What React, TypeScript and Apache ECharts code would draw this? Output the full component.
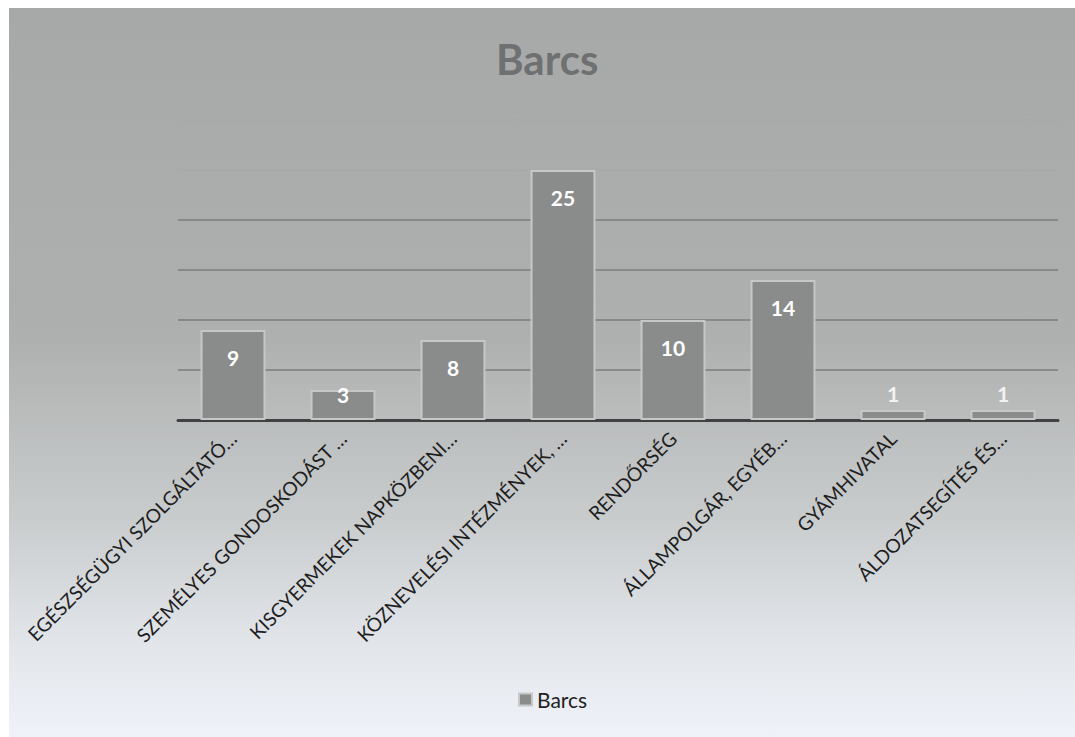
import React, { useEffect, useRef } from "react";
import * as echarts from "echarts";

const titleText = "Barcs";
const seriesName = "Barcs";
const categories = [
  "EGÉSZSÉGÜGYI SZOLGÁLTATÓ…",
  "SZEMÉLYES GONDOSKODÁST …",
  "KISGYERMEKEK NAPKÖZBENI…",
  "KÖZNEVELÉSI INTÉZMÉNYEK, …",
  "RENDŐRSÉG",
  "ÁLLAMPOLGÁR, EGYÉB…",
  "GYÁMHIVATAL",
  "ÁLDOZATSEGÍTÉS ÉS…",
];
const values = [9, 3, 8, 25, 10, 14, 1, 1];
const yMin = 0;
const yMax = 30;
const yInterval = 5;

export default function App() {
  const ref = useRef<HTMLDivElement>(null);
  useEffect(() => {
    if (!ref.current) return;
    const chart = echarts.init(ref.current, undefined, { renderer: "svg" });
    const grid = "#7b7d7c";
    const faint = "rgba(123,125,124,0.04)";
    chart.setOption({
      animation: false,
      backgroundColor: new echarts.graphic.LinearGradient(0, 0, 0, 1, [
        { offset: 0, color: "#a7a9a8" },
        { offset: 0.45, color: "#aeb0af" },
        { offset: 0.7, color: "#c9cccd" },
        { offset: 0.88, color: "#e3e7ec" },
        { offset: 1, color: "#eff3f9" },
      ]),
      title: {
        text: titleText,
        left: 482,
        top: 25,
        textStyle: {
          fontFamily: "Lato",
          fontWeight: "bold",
          fontSize: 42,
          color: "#6e7071",
        },
      },
      legend: {
        bottom: 22,
        left: 504,
        icon: "rect",
        itemWidth: 13,
        itemHeight: 12,
        itemGap: 7,
        textStyle: { fontFamily: "Lato", fontSize: 21, color: "#222" },
        data: [seriesName],
      },
      grid: { left: 169, right: 17, top: 112, bottom: 317, containLabel: false },
      xAxis: {
        type: "category",
        data: categories,
        axisTick: { show: false },
        axisLine: { lineStyle: { color: "#3f4142", width: 3 } },
        axisLabel: {
          interval: 0,
          rotate: 45,
          margin: 15,
          fontFamily: "Lato",
          fontSize: 19.2,
          color: "#1e1e1e",
        },
      },
      yAxis: {
        type: "value",
        min: yMin,
        max: yMax,
        interval: yInterval,
        axisLabel: { show: false },
        axisLine: { show: false },
        axisTick: { show: false },
        splitLine: {
          lineStyle: {
            color: [grid, grid, grid, grid, grid, faint, faint],
            width: 1.5,
          },
        },
      },
      series: [
        {
          name: seriesName,
          type: "bar",
          barCategoryGap: "41%",
          itemStyle: { color: "#8a8c8b", borderColor: "#c6c8c7", borderWidth: 2 },
          label: {
            show: true,
            position: "insideTop",
            distance: 17,
            fontFamily: "Lato",
            fontWeight: "bold",
            fontSize: 21,
            color: "#ffffff",
          },
          data: values.map((v) =>
            v < 2
              ? { value: v, label: { position: "top", distance: 6, color: "#f2f2f2" } }
              : v < 5
              ? { value: v, label: { position: "insideTop", distance: -6 } }
              : v
          ),
        },
      ],
    });
    return () => chart.dispose();
  }, []);
  return (
    <div
      ref={ref}
      style={{ position: "fixed", left: 9, top: 8, width: 1066, height: 729 }}
    />
  );
}
